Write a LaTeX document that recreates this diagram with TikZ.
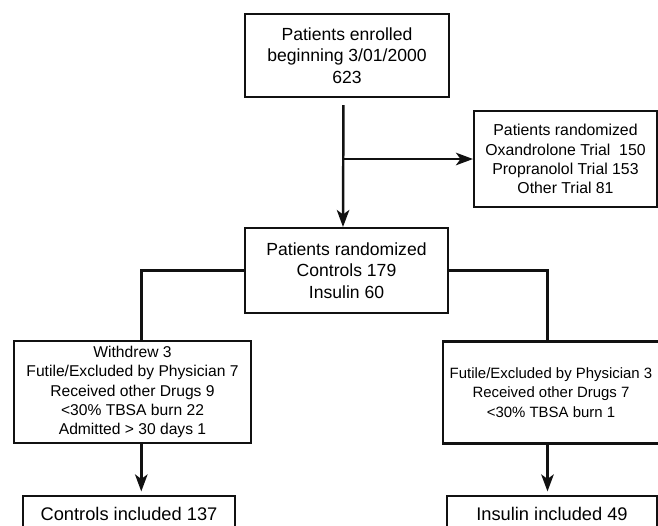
\documentclass[tikz,border=0pt]{standalone}
\usepackage{fontspec}
\setmainfont{Liberation Sans}
\usepackage{tikz}
\usetikzlibrary{arrows.meta,positioning,calc}
\definecolor{flowInk}{HTML}{111111}

\begin{document}
\begin{tikzpicture}[x=.02cm,y=-.02cm,
    flowBox/.style={draw=flowInk,line width=1.2pt,align=center,inner sep=2pt,
      font=\fontsize{10}{12.3}\selectfont},
    smallText/.style={font=\fontsize{#1}{10.9}\selectfont},
    flowLine/.style={draw=flowInk,line width=1.4pt},
    flowArrow/.style={flowLine,-{Stealth[length=.34cm,width=.25cm,inset=.09cm]}}]
  \useasboundingbox (0,0) rectangle (658,525);
  \clip (0,0) rectangle (658,525);
  % boxes
  \node[flowBox,minimum width=4.08cm,minimum height=1.66cm] (enrolled) at (347,55.5)
    {Patients enrolled\\beginning 3/01/2000\\623};
  \node[flowBox,smallText=9,minimum width=3.66cm,minimum height=1.92cm] (otherTrials) at (565.5,159)
    {Patients randomized\\Oxandrolone Trial~~150\\Propranolol Trial 153\\Other Trial 81};
  \node[flowBox,minimum width=4.06cm,minimum height=1.7cm] (randomized) at (346.5,270.5)
    {Patients randomized\\Controls 179\\Insulin 60};
  \node[flowBox,smallText=8.9,minimum width=4.74cm,minimum height=2.04cm] (ctrlExcl) at (132.5,392)
    {Withdrew 3\\Futile/Excluded by Physician 7\\Received other Drugs 9\\<30\% TBSA burn 22\\Admitted > 30 days 1};
  \node[flowBox,smallText=8.5,minimum width=4.32cm,minimum height=2.04cm] (insExcl) at (551,392.5)
    {Futile/Excluded by Physician 3\\Received other Drugs 7\\<30\% TBSA burn 1};
  \node[flowBox,font=\fontsize{10.4}{12.5}\selectfont,minimum width=4.24cm,minimum height=.72cm] (ctrlIncl) at (129,514)
    {Controls included 137};
  \node[flowBox,font=\fontsize{10.4}{12.5}\selectfont,minimum width=4.2cm,minimum height=.72cm] (insIncl) at (552,514)
    {Insulin included 49};
  % connectors
  \draw[flowArrow,shorten <=4pt] ([xshift=-2]enrolled.south) -- ([xshift=-2]randomized.north);
  \draw[flowArrow] ([xshift=-2]enrolled.south |- otherTrials.west) -- (otherTrials.west);
  \draw[flowLine] (randomized.west) -| ([xshift=5]ctrlExcl.north);
  \draw[flowLine] (randomized.east) -| ([xshift=-2]insExcl.north);
  \draw[flowArrow,shorten >=2pt] ([xshift=5]ctrlExcl.south) -- ([xshift=5]ctrlExcl.south |- ctrlIncl.north);
  \draw[flowArrow,shorten >=2pt] ([xshift=-2]insExcl.south) -- ([xshift=-2]insExcl.south |- insIncl.north);
\end{tikzpicture}
\end{document}
